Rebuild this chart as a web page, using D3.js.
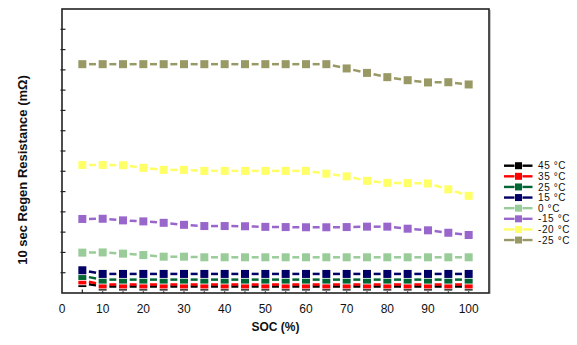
<!DOCTYPE html>
<html><head><meta charset="utf-8">
<script src="https://cdn.jsdelivr.net/npm/d3@7"></script>
<style>body{margin:0;background:#fff;} svg{display:block;font-family:"Liberation Sans",Arial,sans-serif;}</style>
</head><body>
<svg id="c" width="577" height="345"></svg>
<script>
const soc = [5,10,15,20,25,30,35,40,45,50,55,60,65,70,75,80,85,90,95,100];
const xTickLabels = [0,10,20,30,40,50,60,70,80,90,100];
const seriesNames = ["45 °C","35 °C","25 °C","15 °C","0 °C","-15 °C","-20 °C","-25 °C"];
const seriesColors = ["#000000","#ff0000","#006633","#000066","#99cc99","#9966cc","#ffff66","#999966"];
const r45  = [0.49,0.32,0.32,0.32,0.32,0.32,0.32,0.32,0.32,0.32,0.32,0.32,0.32,0.32,0.32,0.32,0.32,0.32,0.32,0.32];
const r35  = [0.62,0.42,0.42,0.42,0.42,0.42,0.42,0.42,0.42,0.42,0.42,0.42,0.42,0.42,0.42,0.42,0.42,0.42,0.42,0.42];
const r25  = [0.84,0.66,0.66,0.66,0.66,0.66,0.66,0.66,0.66,0.66,0.66,0.66,0.66,0.66,0.66,0.66,0.66,0.66,0.66,0.66];
const r15  = [1.12,0.94,0.94,0.94,0.94,0.94,0.94,0.94,0.94,0.94,0.94,0.94,0.94,0.94,0.94,0.94,0.94,0.94,0.94,0.94];
const r0   = [1.99,2.00,1.94,1.87,1.79,1.79,1.76,1.76,1.76,1.76,1.76,1.76,1.76,1.76,1.76,1.76,1.76,1.76,1.76,1.76];
const rm15 = [3.65,3.66,3.58,3.53,3.46,3.36,3.30,3.30,3.29,3.26,3.25,3.24,3.24,3.25,3.27,3.27,3.17,3.09,2.97,2.86];
const rm20 = [6.31,6.31,6.30,6.17,6.07,6.07,6.02,6.02,6.02,6.02,6.02,6.02,5.88,5.75,5.53,5.43,5.42,5.40,5.11,4.79];
const rm25 = [11.28,11.28,11.28,11.28,11.28,11.28,11.28,11.28,11.28,11.28,11.28,11.28,11.28,11.07,10.85,10.64,10.49,10.38,10.39,10.28];
const seriesValues = [r45,r35,r25,r15,r0,rm15,rm20,rm25];

const svg = d3.select("#c");
const L=62,R=489,T=9,B=293;
const x = d3.scaleLinear().domain([0,105]).range([L,R]);
const y = d3.scaleLinear().domain([0,14]).range([B,T]);

// ticks (inward)
const yTicks = d3.range(1,14);
svg.append("g").selectAll("line").data(yTicks).join("line")
  .attr("x1",L-1.5).attr("x2",L+3.5).attr("y1",d=>y(d)).attr("y2",d=>y(d))
  .attr("stroke","#222").attr("stroke-width",1.2);
svg.append("g").selectAll("line").data(soc).join("line")
  .attr("x1",d=>x(d)).attr("x2",d=>x(d)).attr("y1",B).attr("y2",B-3.5)
  .attr("stroke","#222").attr("stroke-width",1.2);
svg.append("g").selectAll("text").data(xTickLabels).join("text")
  .attr("x",d=>x(d)).attr("y",313).attr("text-anchor","middle")
  .attr("font-size",12).attr("fill","#111").text(d=>d);

// series
const gap = 6.7, sz = 8;
seriesValues.forEach((vals,i)=>{
  const col = seriesColors[i];
  const pts = soc.map((s,j)=>[x(s),y(vals[j])]);
  const g = svg.append("g");
  for(let j=0;j<pts.length-1;j++){
    const [x1,y1]=pts[j],[x2,y2]=pts[j+1];
    const dx=x2-x1,dy=y2-y1,len=Math.hypot(dx,dy);
    const ux=dx/len,uy=dy/len;
    g.append("line").attr("x1",x1+ux*gap).attr("y1",y1+uy*gap)
      .attr("x2",x2-ux*gap).attr("y2",y2-uy*gap)
      .attr("stroke",col).attr("stroke-width",2.5);
  }
  g.selectAll("rect").data(pts).join("rect")
    .attr("x",d=>d[0]-sz/2).attr("y",d=>d[1]-sz/2).attr("width",sz).attr("height",sz)
    .attr("fill",col).attr("stroke","#fff").attr("stroke-width",1.6)
    .style("paint-order","stroke");
});

// frame
svg.append("line").attr("x1",R+1.2).attr("x2",R+1.2).attr("y1",T+1).attr("y2",B+1).attr("stroke","#aaa").attr("stroke-width",1);
svg.append("rect").attr("x",L).attr("y",T).attr("width",R-L).attr("height",B-T)
  .attr("fill","none").attr("stroke","#222").attr("stroke-width",1.6);

// axis titles
svg.append("text").attr("x",x(52.5)).attr("y",331).attr("text-anchor","middle")
  .attr("font-size",12).attr("font-weight","bold").attr("fill","#111").text("SOC (%)");
svg.append("text").attr("transform","translate(27,170) rotate(-90)").attr("text-anchor","middle")
  .attr("font-size",13).attr("font-weight","bold").attr("fill","#111").text("10 sec Regen Resistance (mΩ)");

// legend
const lg = svg.append("g").selectAll("g").data(seriesNames).join("g")
  .attr("transform",(d,i)=>`translate(0,${165.7+i*10.62})`);
lg.append("line").attr("x1",504).attr("x2",532.5).attr("y1",0).attr("y2",0)
  .attr("stroke",(d,i)=>seriesColors[i]).attr("stroke-width",2.4);
lg.append("rect").attr("x",515).attr("y",-3.5).attr("width",7).attr("height",7)
  .attr("fill",(d,i)=>seriesColors[i]).attr("stroke","#fff").attr("stroke-width",1)
  .style("paint-order","stroke");
lg.append("text").attr("x",538).attr("y",3.6).attr("font-size",10).attr("letter-spacing",0.6)
  .attr("fill","#111").text(d=>d);
</script>
</body></html>
